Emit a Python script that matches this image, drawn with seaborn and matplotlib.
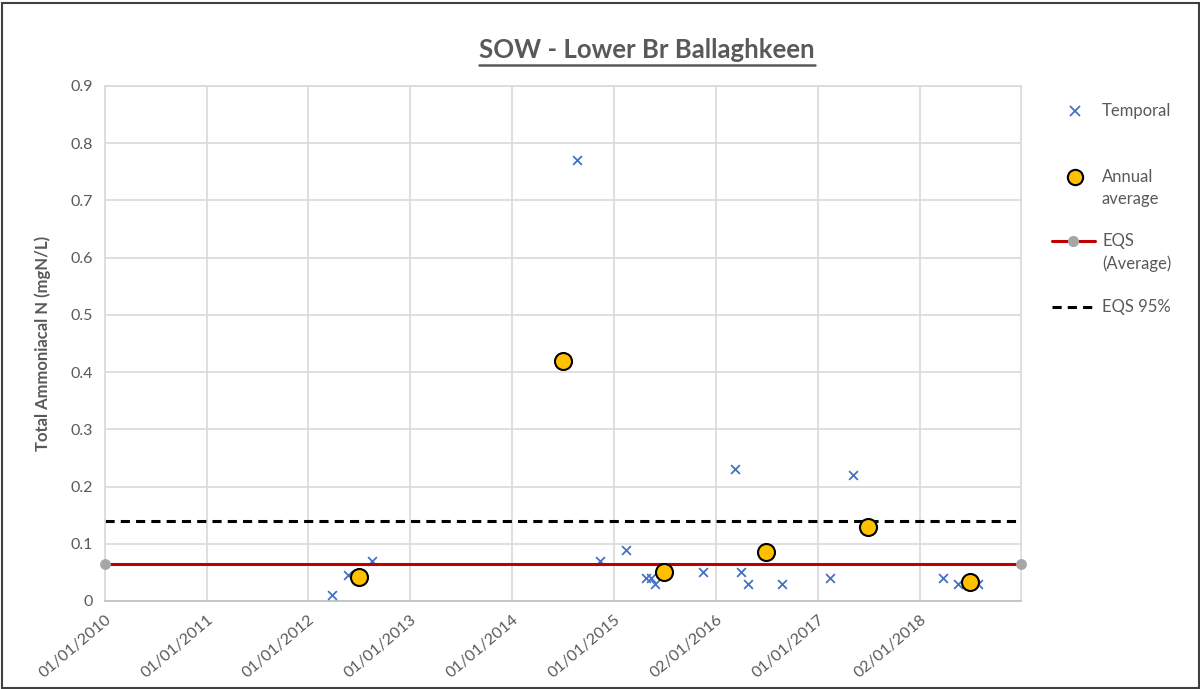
import pandas as pd
import matplotlib
matplotlib.use('Agg')
import matplotlib.pyplot as plt
from matplotlib.lines import Line2D
from matplotlib.patches import Rectangle
import seaborn as sns

# data
temporal_dates = ['2012-03-25', '2012-05-22', '2012-08-16', '2014-08-20', '2014-11-14',
                  '2015-02-13', '2015-04-27', '2015-05-15', '2015-05-30', '2015-11-16',
                  '2016-03-12', '2016-04-01', '2016-04-27', '2016-08-25', '2017-02-16',
                  '2017-05-08', '2018-03-27', '2018-05-19', '2018-07-31']
temporal_vals = [0.01, 0.045, 0.07, 0.77, 0.07,
                 0.09, 0.04, 0.04, 0.03, 0.05,
                 0.23, 0.05, 0.03, 0.03, 0.04,
                 0.22, 0.04, 0.03, 0.03]

annual_dates = ['2012-07-01', '2014-07-01', '2015-07-01', '2016-07-01', '2017-07-01', '2018-07-01']
annual_vals = [0.042, 0.42, 0.05, 0.085, 0.13, 0.033]

eqs_dates = ['2010-01-01', '2019-01-01']
eqs_avg = [0.065, 0.065]
eqs_95 = [0.14, 0.14]

tick_dates = ['2010-01-01', '2011-01-01', '2012-01-01', '2013-01-01', '2014-01-01',
              '2015-01-01', '2016-01-02', '2017-01-01', '2018-01-02']
tick_labels = ['01/01/2010', '01/01/2011', '01/01/2012', '01/01/2013', '01/01/2014',
               '01/01/2015', '02/01/2016', '01/01/2017', '02/01/2018']

temporal = pd.DataFrame({'date': pd.to_datetime(temporal_dates), 'val': temporal_vals})
annual = pd.DataFrame({'date': pd.to_datetime(annual_dates), 'val': annual_vals})
eqs = pd.DataFrame({'date': pd.to_datetime(eqs_dates), 'avg': eqs_avg, 'p95': eqs_95})

sns.set_style('white')
plt.rcParams['font.family'] = ['Lato', 'DejaVu Sans']

grey_txt = '#595959'
grid_col = '#d9d9d9'
W, H = 1200, 689

fig = plt.figure(figsize=(12, 6.89), dpi=100)
ax = fig.add_axes([105/W, 1 - 601/H, (1021 - 105)/W, (601 - 86)/H])

sns.lineplot(data=eqs, x='date', y='p95', ax=ax, color='black', lw=2.2,
             linestyle=(0, (3, 2)), zorder=2)
sns.lineplot(data=eqs, x='date', y='avg', ax=ax, color='#c00000', lw=2.2, zorder=5,
             marker='o', markersize=7, markerfacecolor='#a6a6a6', markeredgecolor='#a6a6a6',
             clip_on=False)
sns.scatterplot(data=temporal, x='date', y='val', ax=ax, marker='x', color='#4472c4',
                s=40, linewidth=1.3, zorder=3)
sns.scatterplot(data=annual, x='date', y='val', ax=ax, marker='o', color='#ffc000',
                s=150, edgecolor='black', linewidth=1.5, zorder=6)

ax.set_xlim(pd.Timestamp('2010-01-01'), pd.Timestamp('2019-01-01'))
ax.set_ylim(0, 0.9)
ax.set_xticks(pd.to_datetime(tick_dates))
ax.set_xticklabels(tick_labels, rotation=40, ha='right', rotation_mode='anchor')
yt = [i / 10 for i in range(10)]
ax.set_yticks(yt)
ax.set_yticklabels(['0'] + [f'{v:.1f}' for v in yt[1:]])
ax.grid(True, color=grid_col, lw=1.2)
ax.set_axisbelow(True)
for sp in ax.spines.values():
    sp.set_color(grid_col)
    sp.set_linewidth(1.2)
ax.spines['bottom'].set_color('#bfbfbf')
ax.tick_params(axis='both', colors=grey_txt, labelsize=11.5, length=5, width=1, color='#bfbfbf')
ax.set_xlabel('')
ax.set_ylabel('Total Ammoniacal N (mgN/L)', color=grey_txt, fontsize=12,
              fontweight='bold', labelpad=14)

# title with underline
title = fig.text(647/W, 1 - 50/H, 'SOW - Lower Br Ballaghkeen', ha='center', va='center',
                 fontsize=18.5, fontweight='bold', color=grey_txt)
fig.canvas.draw()
bb = title.get_window_extent().transformed(fig.transFigure.inverted())
fig.add_artist(Line2D([bb.x0, bb.x1], [bb.y0 - 0.004, bb.y0 - 0.004],
                      transform=fig.transFigure, color=grey_txt, lw=1.8))

# legend on the right, laid out by hand (pixel positions like the original)
def fx(px):
    return px / W

def fy(py):
    return 1 - py / H

fig.add_artist(Line2D([fx(1075)], [fy(111)], transform=fig.transFigure, marker='x',
                      color='#4472c4', linestyle='none', markersize=7, markeredgewidth=1.3))
fig.add_artist(Line2D([fx(1075)], [fy(177)], transform=fig.transFigure, marker='o',
                      markerfacecolor='#ffc000', markeredgecolor='black', linestyle='none',
                      markersize=11, markeredgewidth=1.5))
fig.add_artist(Line2D([fx(1052), fx(1095)], [fy(241), fy(241)], transform=fig.transFigure,
                      color='#c00000', lw=2.2))
fig.add_artist(Line2D([fx(1073)], [fy(241)], transform=fig.transFigure, marker='o',
                      color='#a6a6a6', markersize=7, linestyle='none'))
fig.add_artist(Line2D([fx(1052), fx(1095)], [fy(307), fy(307)], transform=fig.transFigure,
                      color='black', lw=2.2, linestyle=(0, (3, 2))))

legend_rows = [('Temporal', 111), ('Annual', 177), ('average', 199),
               ('EQS', 241), ('(Average)', 264), ('EQS 95%', 307)]
for txt, py in legend_rows:
    fig.text(fx(1102), fy(py), txt, ha='left', va='center', fontsize=12, color=grey_txt)

fig.add_artist(Rectangle((0.002, 0.002), 0.997, 0.994, transform=fig.transFigure,
                         fill=False, edgecolor='#404040', lw=1.5))

fig.savefig('out.png', dpi=100)
